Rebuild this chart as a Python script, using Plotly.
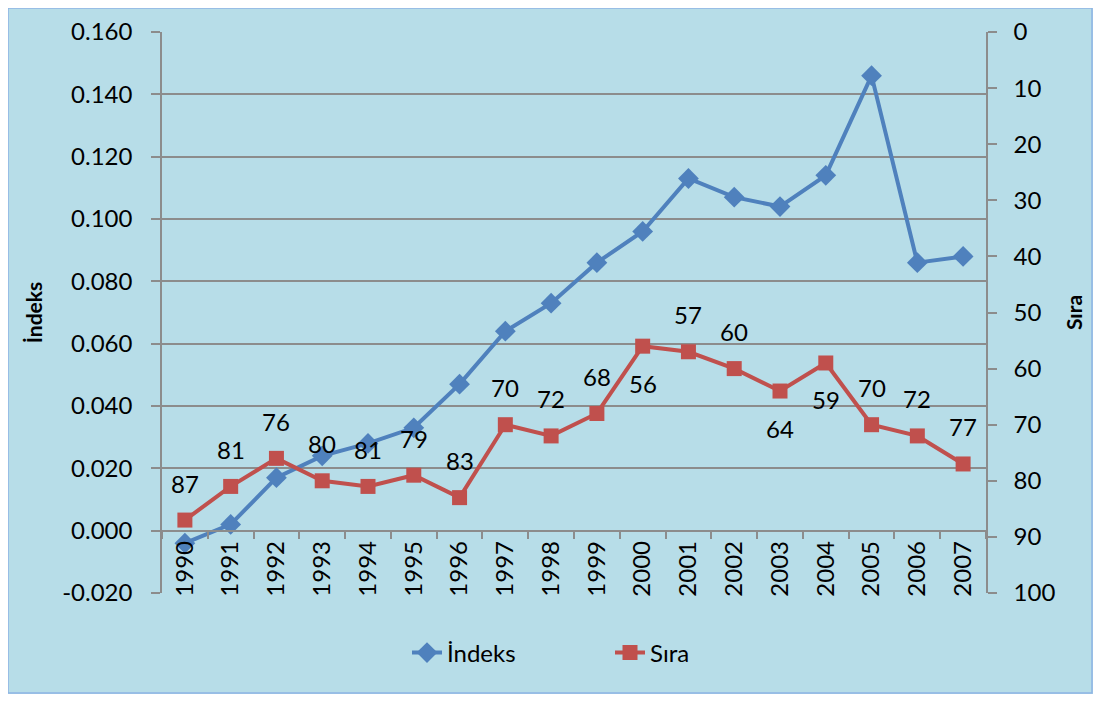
import plotly.graph_objects as go

years = [str(y) for y in range(1990, 2008)]
indeks = [-0.004, 0.002, 0.017, 0.024, 0.028, 0.033, 0.047, 0.064, 0.073, 0.086,
          0.096, 0.113, 0.107, 0.104, 0.114, 0.146, 0.086, 0.088]
sira = [87, 81, 76, 80, 81, 79, 83, 70, 72, 68, 56, 57, 60, 64, 59, 70, 72, 77]
label_below = [False]*10 + [True, False, False, True, True, False, False, False]
left_ticks = [-0.02, 0.0, 0.02, 0.04, 0.06, 0.08, 0.10, 0.12, 0.14, 0.16]

FONT = "Lato, Carlito, Calibri, sans-serif"
BLUE = "#4F81BD"
RED = "#C0504D"
GRID = "#8C8C8C"
BG = "#B7DDE8"
FS = 24

W, H = 1085, 686
L, R, T, B = 154, 107, 24, 101
PW, PH = W - L - R, H - T - B

fig = go.Figure()
fig.add_trace(go.Scatter(x=years, y=indeks, name="İndeks", mode="lines+markers",
                         line=dict(color=BLUE, width=4),
                         marker=dict(symbol="diamond", size=16, color=BLUE)))
fig.add_trace(go.Scatter(x=years, y=sira, name="Sıra", mode="lines+markers", yaxis="y2",
                         line=dict(color=RED, width=4),
                         marker=dict(symbol="square", size=15, color=RED)))

for i, (v, below) in enumerate(zip(sira, label_below)):
    fig.add_annotation(x=i, y=v, xref="x", yref="y2", text=str(v), showarrow=False,
                       yshift=-37 if below else 37,
                       font=dict(family=FONT, size=FS, color="black"))

fig.update_layout(
    width=W, height=H,
    margin=dict(l=L, r=R, t=T, b=B, autoexpand=False),
    paper_bgcolor=BG, plot_bgcolor=BG,
    font=dict(family=FONT, size=FS, color="black"),
    showlegend=True,
    legend=dict(orientation="h", x=(399 - L) / PW, xanchor="left",
                y=(PH - (645 - T)) / PH, yanchor="middle", entrywidth=158,
                font=dict(size=FS), bgcolor="rgba(0,0,0,0)"),
    xaxis=dict(type="category", categoryorder="array", categoryarray=years,
               range=[-0.5, len(years) - 0.5], anchor="free", position=(0.02/0.18),
               showline=True, linecolor=GRID, linewidth=1.5,
               ticks="outside", ticklen=8, tickcolor=GRID, tickwidth=1.5,
               tickson="boundaries", tickangle=-90, showgrid=False,
               automargin=False, tickfont=dict(size=FS)),
    yaxis=dict(range=[-0.02, 0.16], tickvals=left_ticks,
               ticktext=[f"{v:.3f}" for v in left_ticks],
               showline=True, linecolor=GRID, linewidth=1.5,
               ticks="outside", ticklen=9, tickcolor=GRID, tickwidth=1.5,
               ticklabelstandoff=14, automargin=False,
               showgrid=True, gridcolor=GRID, gridwidth=1.5, zeroline=False,
               title=dict(text="<b>İndeks</b>", font=dict(size=21), standoff=14),
               tickfont=dict(size=FS)),
    yaxis2=dict(range=[100, 0], dtick=10, overlaying="y", side="right",
                showline=True, linecolor=GRID, linewidth=1.5,
                ticks="outside", ticklen=9, tickcolor=GRID, tickwidth=1.5,
                ticklabelstandoff=12, automargin=False,
                showgrid=False, zeroline=False,
                title=dict(text="<b>Sıra</b>", font=dict(size=21), standoff=13),
                tickfont=dict(size=FS)),
)

fig.add_shape(type="rect", xref="paper", yref="paper",
              x0=(0 - L) / PW, x1=(W - 1 - L) / PW, y0=(PH - (H - 1 - T)) / PH, y1=(PH + T) / PH,
              line=dict(color="#8EB4E3", width=1.5), fillcolor="rgba(0,0,0,0)")

fig.write_html("out.html")
